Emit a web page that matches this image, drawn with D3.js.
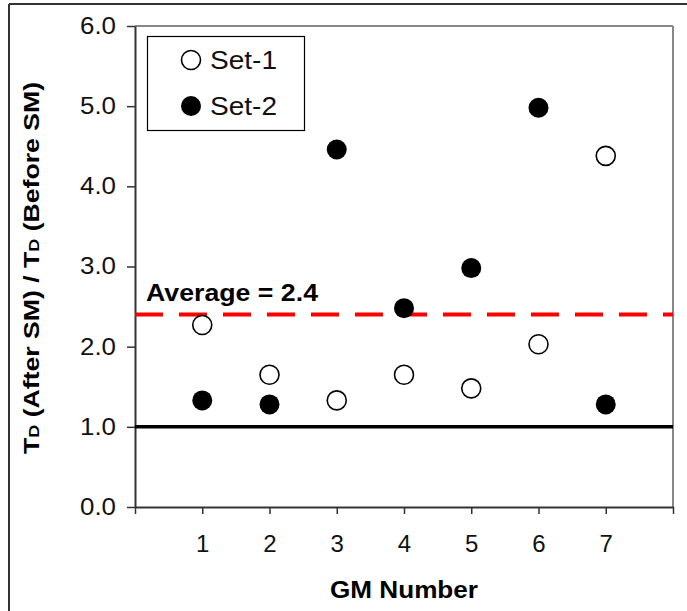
<!DOCTYPE html>
<html>
<head>
<meta charset="utf-8">
<script src="https://cdn.jsdelivr.net/npm/d3@7"></script>
<style>
  body { margin: 0; background: #fff; }
  text { font-family: Arial, "Liberation Sans", sans-serif; }
</style>
</head>
<body>
<div id="chart"></div>
<script>
// values
var gmNumbers = [1, 2, 3, 4, 5, 6, 7];
var set1 = [2.27, 1.65, 1.33, 1.65, 1.48, 2.03, 4.38];
var set2 = [1.33, 1.28, 4.46, 2.48, 2.98, 4.98, 1.28];
var yTicks = [0, 1, 2, 3, 4, 5, 6];
var xTicks = [0, 1, 2, 3, 4, 5, 6, 7, 8];
var average = 2.4;
var unity = 1.0;

var width = 687, height = 611;
var margin = {top: 26, right: 14, bottom: 104, left: 135};

var svg = d3.select("#chart")
  .append("svg")
  .attr("width", width)
  .attr("height", height);

svg.append("rect").attr("width", width).attr("height", height).attr("fill", "#fff");

// outer frame (only top and left edges show)
svg.append("line").attr("x1", 9).attr("x2", width).attr("y1", 4).attr("y2", 4)
  .attr("stroke", "#333").attr("stroke-width", 2);
svg.append("line").attr("x1", 9).attr("x2", 9).attr("y1", 4).attr("y2", height)
  .attr("stroke", "#333").attr("stroke-width", 2);

var x = d3.scaleLinear()
  .domain([0, 8])
  .range([margin.left, width - margin.right]);

var y = d3.scaleLinear()
  .domain([0, 6])
  .range([height - margin.bottom, margin.top]);

// top and right plot border
svg.append("line")
  .attr("x1", x(0)).attr("x2", x(8)).attr("y1", y(6)).attr("y2", y(6))
  .attr("stroke", "#888").attr("stroke-width", 2);
svg.append("line")
  .attr("x1", x(8)).attr("x2", x(8)).attr("y1", y(6)).attr("y2", y(0))
  .attr("stroke", "#888").attr("stroke-width", 2);

// y axis
var yAxis = svg.append("g")
  .attr("transform", "translate(" + x(0) + ",0)")
  .call(d3.axisLeft(y).tickValues(yTicks).tickFormat(d3.format(".1f"))
    .tickSize(8).tickSizeOuter(0).tickPadding(11));
yAxis.selectAll("text").attr("font-size", 23).attr("fill", "#111")
  .attr("textLength", 36).attr("lengthAdjust", "spacingAndGlyphs");

// x axis
var xAxis = svg.append("g")
  .attr("transform", "translate(0," + y(0) + ")")
  .call(d3.axisBottom(x).tickValues(xTicks)
    .tickFormat(function(d) { return (d >= 1 && d <= 7) ? d : ""; })
    .tickSize(7).tickSizeOuter(0).tickPadding(21));
xAxis.selectAll("text").attr("font-size", 24).attr("fill", "#111");

svg.selectAll(".domain").attr("stroke", "#333").attr("stroke-width", 2);
svg.selectAll(".tick line").attr("stroke", "#333").attr("stroke-width", 1.5);

// reference lines
svg.append("line")
  .attr("x1", x(0)).attr("x2", x(8)).attr("y1", y(unity)).attr("y2", y(unity))
  .attr("stroke", "#000").attr("stroke-width", 3.5);

svg.append("line")
  .attr("x1", x(0)).attr("x2", x(8)).attr("y1", y(average)).attr("y2", y(average))
  .attr("stroke", "#ff0000").attr("stroke-width", 4)
  .attr("stroke-dasharray", "28,16");

svg.append("text")
  .attr("x", x(0) + 11).attr("y", y(average) - 14)
  .attr("font-size", 23).attr("font-weight", "bold")
  .attr("textLength", 172).attr("lengthAdjust", "spacingAndGlyphs")
  .text("Average = " + average);

// points
var pts1 = gmNumbers.map(function(g, i) { return {gm: g, v: set1[i]}; });
var pts2 = gmNumbers.map(function(g, i) { return {gm: g, v: set2[i]}; });

svg.selectAll("circle.set1")
  .data(pts1)
  .enter().append("circle")
  .attr("class", "set1")
  .attr("cx", function(d) { return x(d.gm); })
  .attr("cy", function(d) { return y(d.v); })
  .attr("r", 9.5)
  .attr("fill", "#fff")
  .attr("stroke", "#000")
  .attr("stroke-width", 1.6);

svg.selectAll("circle.set2")
  .data(pts2)
  .enter().append("circle")
  .attr("class", "set2")
  .attr("cx", function(d) { return x(d.gm); })
  .attr("cy", function(d) { return y(d.v); })
  .attr("r", 10)
  .attr("fill", "#000");

// legend
var legend = svg.append("g");
legend.append("rect")
  .attr("x", 147.5).attr("y", 36.5).attr("width", 157).attr("height", 94)
  .attr("fill", "#fff").attr("stroke", "#000").attr("stroke-width", 1.2);
legend.append("circle").attr("cx", 191).attr("cy", 60).attr("r", 9.5)
  .attr("fill", "#fff").attr("stroke", "#000").attr("stroke-width", 1.6);
legend.append("circle").attr("cx", 191).attr("cy", 106).attr("r", 10)
  .attr("fill", "#000");
legend.append("text").attr("x", 210).attr("y", 69).attr("font-size", 25)
  .attr("fill", "#111").attr("textLength", 67).attr("lengthAdjust", "spacingAndGlyphs")
  .text("Set-1");
legend.append("text").attr("x", 210).attr("y", 115).attr("font-size", 25)
  .attr("fill", "#111").attr("textLength", 67).attr("lengthAdjust", "spacingAndGlyphs")
  .text("Set-2");

// axis titles
svg.append("text")
  .attr("x", (x(0) + x(8)) / 2).attr("y", 598)
  .attr("text-anchor", "middle")
  .attr("font-size", 24).attr("font-weight", "bold")
  .attr("textLength", 148).attr("lengthAdjust", "spacingAndGlyphs")
  .text("GM Number");

var yTitle = svg.append("text")
  .attr("transform", "translate(39," + 268 + ") rotate(-90)")
  .attr("text-anchor", "middle")
  .attr("font-size", 22).attr("font-weight", "bold")
  .attr("textLength", 372).attr("lengthAdjust", "spacingAndGlyphs");
yTitle.append("tspan").text("T");
yTitle.append("tspan").attr("font-size", 15).text("D");
yTitle.append("tspan").text(" (After SM) / T");
yTitle.append("tspan").attr("font-size", 15).text("D");
yTitle.append("tspan").text(" (Before SM)");
</script>
</body>
</html>
